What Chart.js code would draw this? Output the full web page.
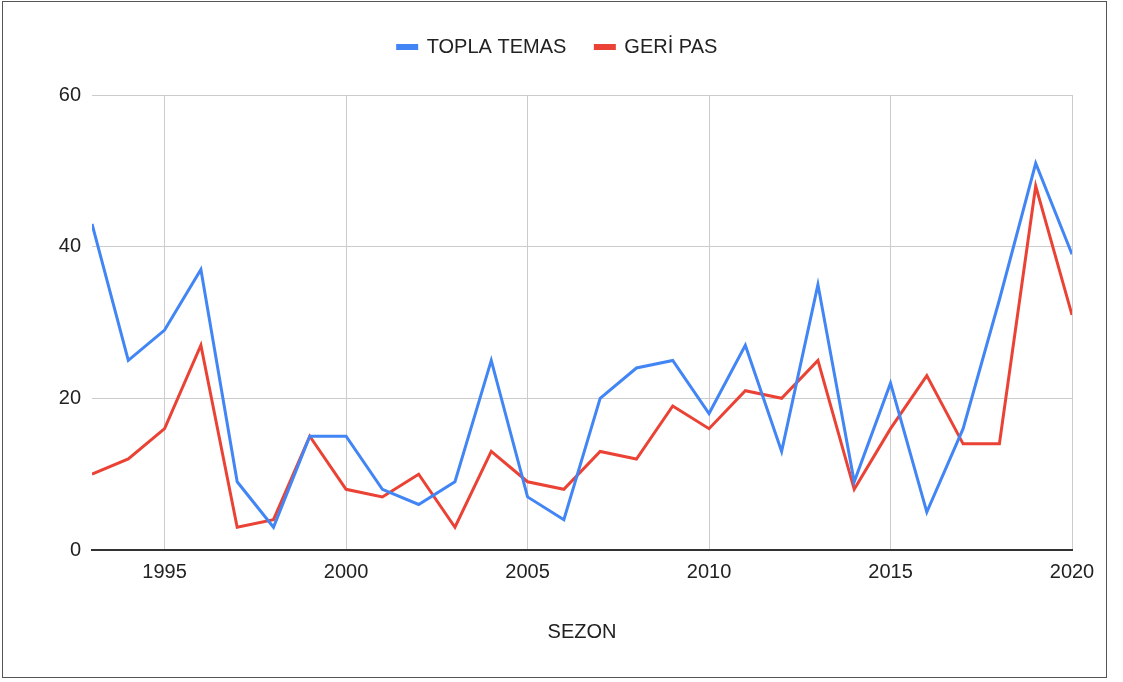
<!DOCTYPE html>
<html lang="tr">
<head>
<meta charset="UTF-8">
<title>TOPLA TEMAS / GERİ PAS</title>
<script src="https://cdn.jsdelivr.net/npm/chart.js"></script>
<style>
  html, body { margin: 0; padding: 0; background: #fff; }
  .frame { position: absolute; left: 2px; top: 1px; width: 1103px; height: 675px; border: 1px solid #555; }
  .wrap { position: absolute; left: 0; top: 0; width: 1123px; height: 682px; }
</style>
</head>
<body>
<div class="frame"></div>
<div class="wrap"><canvas id="chart"></canvas></div>
<script>
// sezon (x) values
const seasons = [1993, 1994, 1995, 1996, 1997, 1998, 1999, 2000, 2001, 2002, 2003, 2004, 2005, 2006,
                 2007, 2008, 2009, 2010, 2011, 2012, 2013, 2014, 2015, 2016, 2017, 2018, 2019, 2020];
const toplaTemas = [43, 25, 29, 37, 9, 3, 15, 15, 8, 6, 9, 25, 7, 4,
                    20, 24, 25, 18, 27, 13, 35, 9, 22, 5, 16, 33, 51, 39];
const geriPas = [10, 12, 16, 27, 3, 4, 15, 8, 7, 10, 3, 13, 9, 8,
                 13, 12, 19, 16, 21, 20, 25, 8, 16, 23, 14, 14, 48, 31];
const yTicks = [0, 20, 40, 60];
const xStep = 5;

const FONT = "'Liberation Sans', Arial, sans-serif";

// extra space between legend and plot
const legendGap = {
  id: 'legendGap',
  beforeLayout(chart) {
    const lg = chart.legend;
    if (lg && !lg._gapPatched) {
      const fit = lg.fit;
      lg.fit = function () { fit.call(this); this.height += 28; };
      lg._gapPatched = true;
    }
  }
};

const toPoints = arr => seasons.map((s, i) => ({ x: s, y: arr[i] }));

new Chart(document.getElementById('chart'), {
  type: 'line',
  data: {
    datasets: [
      { label: 'TOPLA TEMAS', data: toPoints(toplaTemas), borderColor: '#4285F4', backgroundColor: '#4285F4',
        borderWidth: 3, pointRadius: 0, tension: 0 },
      { label: 'GERİ PAS', data: toPoints(geriPas), borderColor: '#EA4335', backgroundColor: '#EA4335',
        borderWidth: 3, pointRadius: 0, tension: 0 }
    ]
  },
  options: {
    responsive: true,
    maintainAspectRatio: false,
    animation: false,
    layout: { padding: { left: 43, right: 51, top: 8, bottom: 0 } },
    plugins: {
      tooltip: { enabled: false },
      legend: {
        position: 'top',
        labels: {
          color: '#222',
          font: { family: FONT, size: 20 },
          boxWidth: 19,
          boxHeight: 3,
          padding: 29
        }
      }
    },
    scales: {
      x: {
        type: 'linear',
        min: seasons[0],
        max: seasons[seasons.length - 1],
        afterBuildTicks: axis => { axis.ticks = axis.ticks.filter(t => t.value % xStep === 0); },
        ticks: {
          stepSize: xStep,
          color: '#222',
          font: { family: FONT, size: 20 },
          padding: 10,
          maxRotation: 0,
          autoSkip: false,
          callback: v => String(v)
        },
        grid: { color: '#cccccc', lineWidth: 1, drawTicks: false },
        border: { display: true, color: '#333', width: 2 },
        title: {
          display: true,
          text: 'SEZON',
          color: '#222',
          font: { family: FONT, size: 20 },
          padding: { top: 0, bottom: 38 }
        },
        afterFit: scale => { scale.height = 132; }
      },
      y: {
        min: 0,
        max: 60,
        afterBuildTicks: axis => { axis.ticks = yTicks.map(v => ({ value: v })); },
        ticks: {
          color: '#222',
          font: { family: FONT, size: 20 },
          padding: 11
        },
        grid: { color: '#cccccc', lineWidth: 1, drawTicks: false },
        border: { display: false },
        afterFit: scale => { scale.width = 49; }
      }
    }
  },
  plugins: [legendGap]
});
</script>
</body>
</html>
